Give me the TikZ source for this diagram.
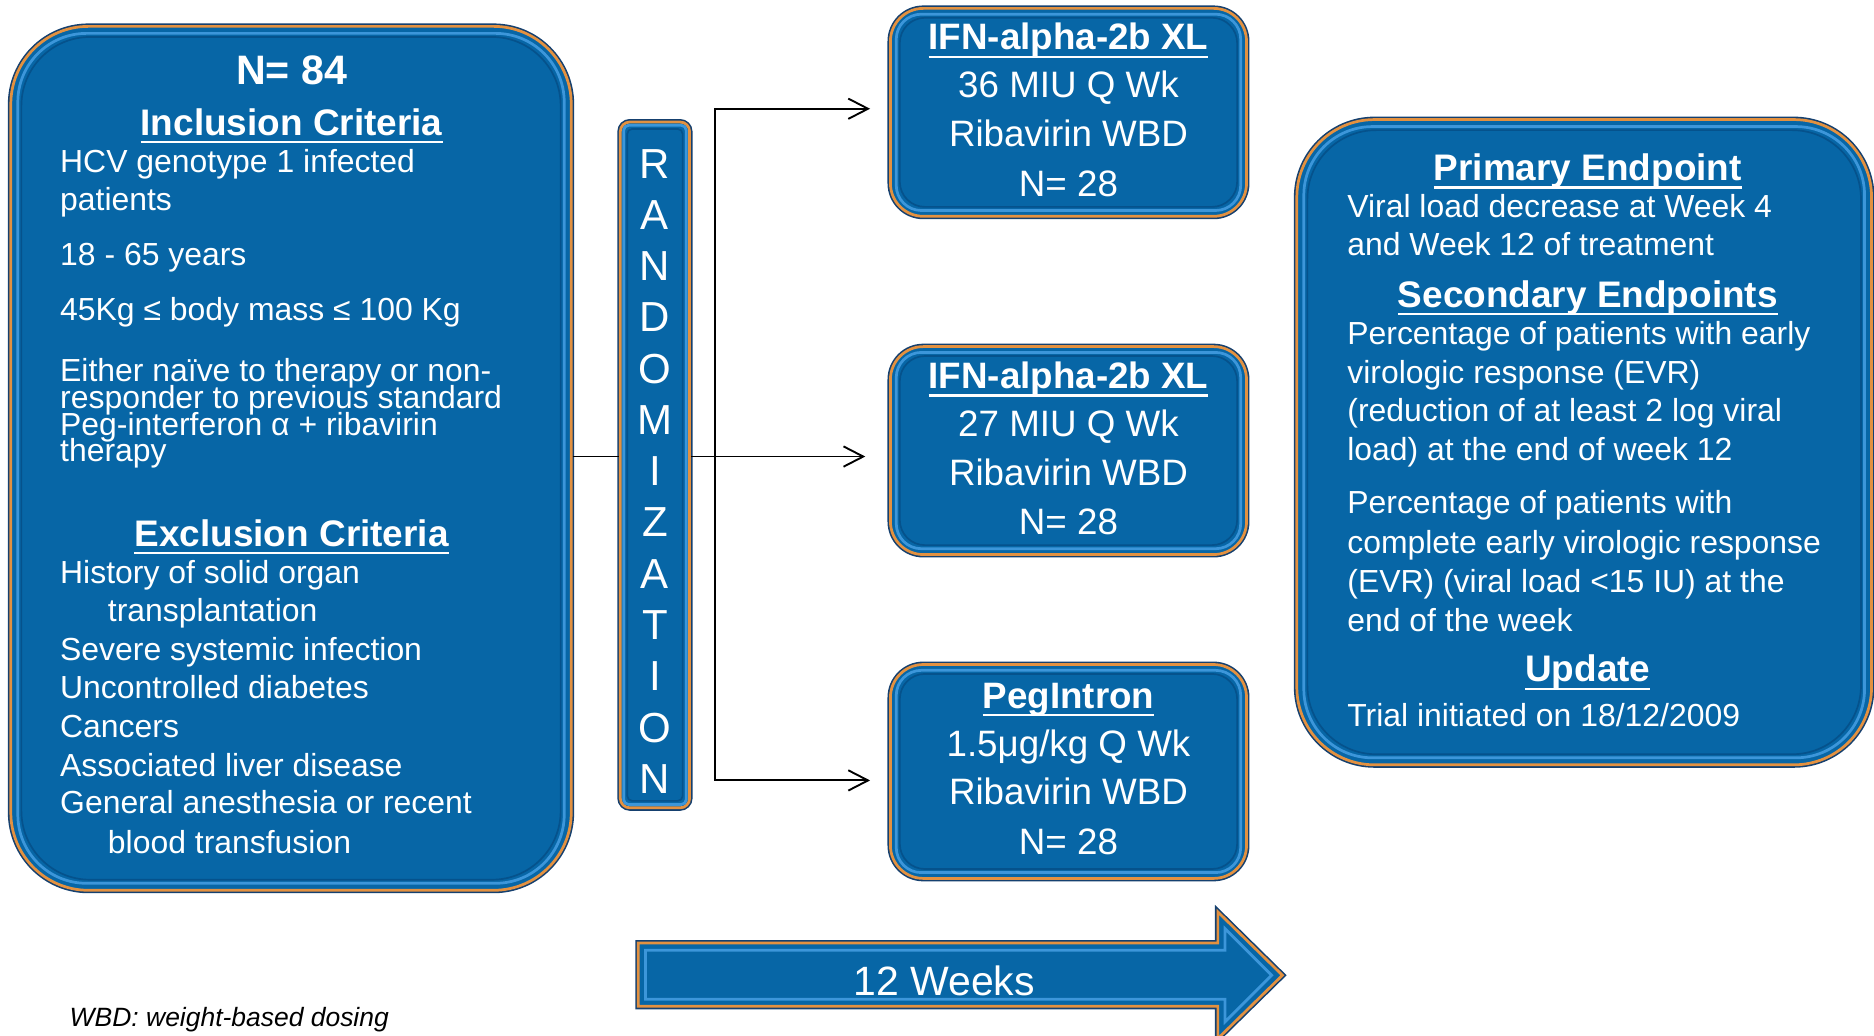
\documentclass[tikz,border=0pt]{standalone}
\usepackage{fontspec}
\setmainfont{Liberation Sans}
\usetikzlibrary{arrows.meta}

\definecolor{panelblue}{HTML}{0766A6}
\definecolor{rimorange}{HTML}{E39140}
\definecolor{rimnavy}{HTML}{15406F}
\definecolor{bevelblue}{HTML}{3C96DA}
\definecolor{bevelshade}{HTML}{05528C}

% underlined heading text
\newcommand{\ulin}[1]{\setbox0\hbox{#1}\rlap{\raisebox{-0.22em}{\rule{\wd0}{0.06em}}}\box0}

\begin{document}
\begin{tikzpicture}[x=0.02cm, y=0.02cm, >={Straight Barb[length=3.3mm,width=3.4mm]},
  panel/.style={draw=rimorange, line width=1.3pt, fill=panelblue,
    preaction={draw=rimnavy, line width=2.8pt}, inner sep=0pt},
  bevel/.style={draw=bevelblue, line width=1.3pt},
  shade/.style={draw=bevelshade, line width=0.8pt},
  body/.style={text=white, font=\fontsize{15.2}{18}\selectfont, anchor=base west, inner sep=0pt},
  head/.style={text=white, font=\bfseries\fontsize{17.6}{21}\selectfont, anchor=base, inner sep=0pt},
  arm/.style={text=white, font=\fontsize{17.5}{21}\selectfont, anchor=base, inner sep=0pt},
  armhead/.style={arm, font=\bfseries\fontsize{17.5}{21}\selectfont},
  letter/.style={text=white, font=\fontsize{20}{24}\selectfont, anchor=base, inner sep=0pt},
  link/.style={line width=0.9pt}]
\path[use as bounding box, fill=white] (0,0) rectangle (1568,866);

% panels
\node[panel, rounded corners=1.3cm, minimum width=9.38cm, minimum height=14.46cm] (incl) at (243.5,482.5) {};
\node[panel, rounded corners=0.16cm, minimum width=1.16cm, minimum height=11.48cm] (rand) at (548,477) {};
\node[panel, rounded corners=0.55cm, minimum width=5.96cm, minimum height=3.48cm] (arm1) at (894,772) {};
\node[panel, rounded corners=0.55cm, minimum width=5.96cm, minimum height=3.48cm] (arm2) at (894,489) {};
\node[panel, rounded corners=0.55cm, minimum width=5.96cm, minimum height=3.58cm] (arm3) at (894,220.5) {};
\node[panel, rounded corners=1.3cm, minimum width=9.62cm, minimum height=10.8cm] (endp) at (1325.5,496) {};

\foreach \b/\r/\d in {incl/1.15cm/7, endp/1.15cm/7, arm1/0.42cm/6, arm2/0.42cm/6, arm3/0.42cm/6, rand/0.08cm/4}{
  \draw[bevel, rounded corners=\r] ([shift={(\d,\d)}]\b.south west) rectangle ([shift={(-\d,-\d)}]\b.north east);
  \draw[shade, rounded corners=\r] ([shift={(\d+3,\d+3)}]\b.south west) rectangle ([shift={(-\d-3,-\d-3)}]\b.north east);
}

% 12 weeks arrow
\draw[panel] (534,77) -- (1019,77) -- (1019,103) -- (1073,50) -- (1019,-3) -- (1019,24) -- (534,24) -- cycle;
\draw[bevel] (540,71) -- (1025,71) -- (1025,89) -- (1064,50) -- (1025,11) -- (1025,30) -- (540,30) -- cycle;
\node[letter, font=\fontsize{19.5}{23}\selectfont] (weeks) at (790,33.4) {12 Weeks};

% inclusion / exclusion
\node[head, font=\bfseries\fontsize{19.6}{23}\selectfont] (ntot) at (244,795) {N= 84};
\node[head] (inchead) at (244,753) {\ulin{Inclusion Criteria}};
\node[body] (inc1) at (50,722) {HCV genotype 1 infected};
\node[body] (inc2) at (50,690) {patients};
\node[body] (inc3) at (50,644) {18 - 65 years};
\node[body] (inc4) at (50,598) {45Kg ≤ body mass ≤ 100 Kg};
\node[body] (inc5) at (50,547) {Either naïve to therapy or non-};
\node[body] (inc6) at (50,524) {responder to previous standard};
\node[body] (inc7) at (50,502) {Peg-interferon α + ribavirin};
\node[body] (inc8) at (50,480) {therapy};
\node[head] (exchead) at (244,409) {\ulin{Exclusion Criteria}};
\node[body] (exc1) at (50,377.4) {History of solid organ};
\node[body] (exc2) at (90,346) {transplantation};
\node[body] (exc3) at (50,313.4) {Severe systemic infection};
\node[body] (exc4) at (50,281.2) {Uncontrolled diabetes};
\node[body] (exc5) at (50,249.1) {Cancers};
\node[body] (exc6) at (50,216.7) {Associated liver disease};
\node[body] (exc7) at (50,185.1) {General anesthesia or recent};
\node[body] (exc8) at (90,152.1) {blood transfusion};

% randomization bar
\foreach \ch [count=\k from 0] in {R,A,N,D,O,M,I,Z,A,T,I,O,N}
  \node[letter] (r\k) at (548,{717-42.9*\k}) {\ch};

% treatment arms
\node[armhead] (a1h) at (894,824.2) {\ulin{IFN-alpha-2b XL}};
\node[arm] (a1d) at (894,784) {36 MIU Q Wk};
\node[arm] (a1r) at (894,743) {Ribavirin WBD};
\node[arm] (a1n) at (894,701.5) {N= 28};
\node[armhead] (a2h) at (894,541) {\ulin{IFN-alpha-2b XL}};
\node[arm] (a2d) at (894,500.5) {27 MIU Q Wk};
\node[arm] (a2r) at (894,459.5) {Ribavirin WBD};
\node[arm] (a2n) at (894,418.5) {N= 28};
\node[armhead] (a3h) at (894,273.4) {\ulin{PegIntron}};
\node[arm] (a3d) at (894,233) {1.5μg/kg Q Wk};
\node[arm] (a3r) at (894,192.5) {Ribavirin WBD};
\node[arm] (a3n) at (894,151) {N= 28};

% endpoints
\node[head] (prihead) at (1328.5,715) {\ulin{Primary Endpoint}};
\node[body] (pri1) at (1127,684) {Viral load decrease at Week 4};
\node[body] (pri2) at (1127,652) {and Week 12 of treatment};
\node[head] (sechead) at (1328.5,609) {\ulin{Secondary Endpoints}};
\node[body] (sec1) at (1127,577.4) {Percentage of patients with early};
\node[body] (sec2) at (1127,545.3) {virologic response (EVR)};
\node[body] (sec3) at (1127,513.2) {(reduction of at least 2 log viral};
\node[body] (sec4) at (1127,480.3) {load) at the end of week 12};
\node[body] (sec5) at (1127,436) {Percentage of patients with};
\node[body] (sec6) at (1127,403) {complete early virologic response};
\node[body] (sec7) at (1127,370.2) {(EVR) (viral load <15 IU) at the};
\node[body] (sec8) at (1127,338) {end of the week};
\node[head] (updhead) at (1328.5,295.4) {\ulin{Update}};
\node[body] (upd1) at (1127,258) {Trial initiated on 18/12/2009};

\node[anchor=base west, inner sep=0pt, font=\itshape\fontsize{12.6}{15}\selectfont] (note) at (58,7.4) {WBD: weight-based dosing};

% connectors
\coordinate (fork) at (598,484);
\coordinate (tip1) at (728,775);
\coordinate (tip2) at (724,484);
\coordinate (tip3) at (728,213);
\draw[link] (incl.east |- fork) -- (rand.west |- fork);
\draw[link,->] (rand.east |- fork) -- (tip2);
\draw[link,<->] (tip1) -| (fork) |- (tip3);
\end{tikzpicture}
\end{document}
